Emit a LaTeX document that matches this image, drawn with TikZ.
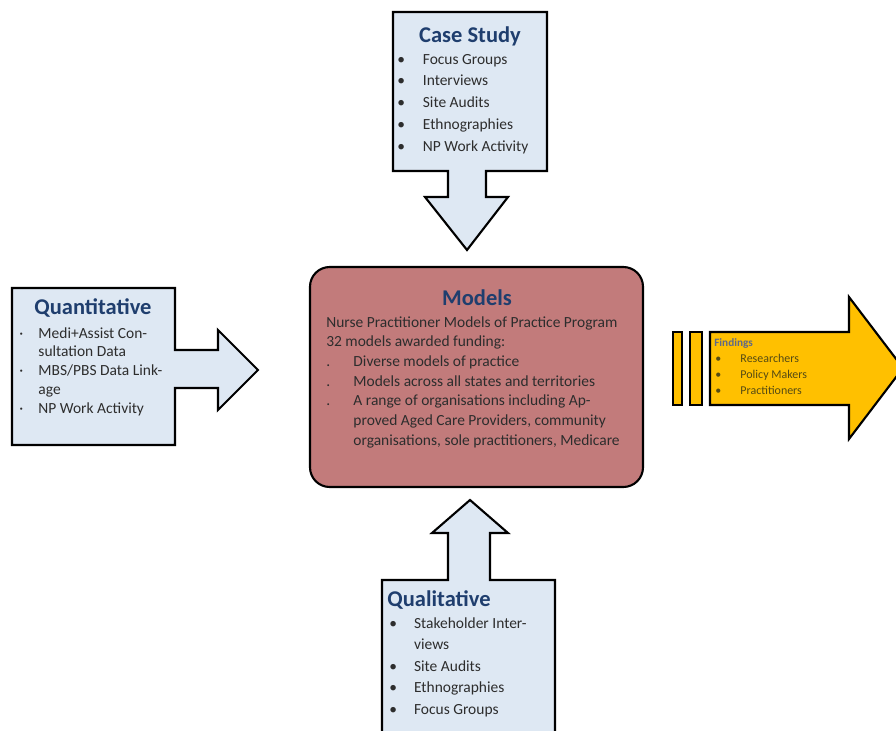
\documentclass[tikz,border=0pt]{standalone}
\usepackage{fontspec}
\setmainfont{Carlito}
\usetikzlibrary{positioning}

\definecolor{boxblue}{RGB}{222,232,243}
\definecolor{modelred}{RGB}{194,123,123}
\definecolor{headnavy}{RGB}{31,62,110}
\definecolor{bodygray}{RGB}{45,45,45}
\definecolor{findgold}{RGB}{255,192,0}
\definecolor{findtext}{RGB}{85,75,20}
\definecolor{findhead}{RGB}{95,105,135}

\begin{document}
\begin{tikzpicture}[
    x=0.025cm, y=-0.025cm,
    callout/.style={draw=black, line width=1.5pt, fill=boxblue, line join=miter},
    heading/.style={font=\fontsize{16}{18}\selectfont\bfseries, text=headnavy, inner sep=0pt},
    listtext/.style={text=bodygray, inner sep=0pt, anchor=base west}
]
    \clip (0,0) rectangle (896,731);

    % Case Study callout (pointing down)
    \draw[callout] (393,12) -- (547,12) -- (547,171) -- (486,171) -- (486,197) -- (508,197)
        -- (467,250) -- (425,197) -- (448,197) -- (448,171) -- (393,171) -- cycle;
    \node[heading] (case-title) at (470,36) {Case Study};
    \node[listtext, font=\fontsize{11}{15.6}\selectfont] (case-list) at (397,64) {%
        \begin{tabular}[t]{@{}p{0.64cm}@{}l@{}}
        \textbullet & Focus Groups\\
        \textbullet & Interviews\\
        \textbullet & Site Audits\\
        \textbullet & Ethnographies\\
        \textbullet & NP Work Activity
        \end{tabular}};

    % Quantitative callout (pointing right)
    \draw[callout] (12,288) -- (175,288) -- (175,350) -- (218,350) -- (218,330) -- (258,370)
        -- (218,410) -- (218,388) -- (175,388) -- (175,445) -- (12,445) -- cycle;
    \node[heading] (quant-title) at (93,308) {Quantitative};
    \node[listtext, font=\fontsize{11}{13.5}\selectfont] (quant-list) at (19,338) {%
        \begin{tabular}[t]{@{}p{0.48cm}@{}l@{}}
        · & Medi+Assist Con-\\
          & sultation Data\\
        · & MBS/PBS Data Link-\\
          & age\\
        · & NP Work Activity
        \end{tabular}};

    % Qualitative callout (pointing up)
    \draw[callout] (382,580) -- (448,580) -- (448,533) -- (432,533) -- (470,500) -- (508,533)
        -- (490,533) -- (490,580) -- (555,580) -- (555,745) -- (382,745) -- cycle;
    \node[heading] (qual-title) at (439,600) {Qualitative};
    \node[listtext, font=\fontsize{11}{15.3}\selectfont] (qual-list) at (389,628) {%
        \begin{tabular}[t]{@{}p{0.62cm}@{}l@{}}
        \textbullet & Stakeholder Inter-\\
                    & views\\
        \textbullet & Site Audits\\
        \textbullet & Ethnographies\\
        \textbullet & Focus Groups
        \end{tabular}};

    % Models box
    \draw[line width=1.5pt, fill=modelred, rounded corners=14pt] (310,267) rectangle (643,487);
    \node[heading] (models-title) at (477,298) {Models};
    \node[listtext, font=\fontsize{11}{14}\selectfont] (models-list) at (326,327) {%
        \begin{tabular}[t]{@{}p{0.68cm}@{}l@{}}
        \multicolumn{2}{@{}l@{}}{Nurse Practitioner Models of Practice Program}\\
        \multicolumn{2}{@{}l@{}}{32 models awarded funding:}\\
        . & Diverse models of practice\\
        . & Models across all states and territories\\
        . & A range of organisations including Ap-\\
          & proved Aged Care Providers, community\\
          & organisations, sole practitioners, Medicare
        \end{tabular}};

    % Findings arrow
    \draw[line width=1.5pt, fill=findgold] (673,332) rectangle (682,405);
    \draw[line width=1.5pt, fill=findgold] (690,332) rectangle (702,405);
    \draw[line width=1.5pt, fill=findgold, line join=miter] (710,332) -- (849,332) -- (849,297)
        -- (903,368) -- (849,439) -- (849,405) -- (710,405) -- cycle;
    \node[anchor=base west, inner sep=0pt, font=\fontsize{8}{9}\selectfont\bfseries, text=findhead]
        (find-title) at (714,346) {Findings};
    \node[listtext, font=\fontsize{8.5}{11.4}\selectfont, text=findtext] (find-list) at (715,362) {%
        \begin{tabular}[t]{@{}p{0.63cm}@{}l@{}}
        \textbullet & Researchers\\
        \textbullet & Policy Makers\\
        \textbullet & Practitioners
        \end{tabular}};
\end{tikzpicture}
\end{document}
